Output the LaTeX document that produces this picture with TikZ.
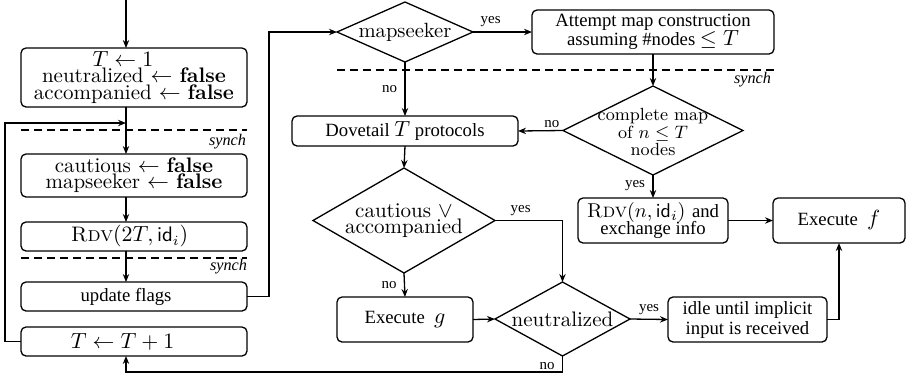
\documentclass[tikz,border=0pt]{standalone}
\usepackage{fontspec}
\newfontfamily\tms[Scale=0.89]{Liberation Serif}
\usetikzlibrary{shapes.geometric,arrows.meta}
% tight multi-line text: size, baselineskip
\newcommand\cmtxt[2]{\fontsize{#1}{#2}\selectfont\lineskiplimit=-20pt\relax}
\newcommand\tmtxt[2]{\tms\fontsize{#1}{#2}\selectfont\lineskiplimit=-20pt\relax}
\begin{document}
\begin{tikzpicture}[x=0.5pt,y=-0.5pt,
  every node/.style={inner sep=0pt, outer sep=0pt},
  flow/.style={draw, line width=0.65pt, rounded corners=2.5pt, align=center},
  dec/.style={draw, line width=0.65pt, diamond, align=center},
  conn/.style={line width=0.65pt, -{Stealth[length=4pt,width=3.2pt]}},
  barrier/.style={line width=0.65pt, dash pattern=on 4pt off 2.5pt},
  lbl/.style={font=\tmtxt{8.4}{8.4}},
  synchlbl/.style={font=\tmtxt{9.1}{9.4}\itshape, anchor=east}
]
\useasboundingbox (0,0) rectangle (907,377);

% ---- left column: initialisation and round loop
\coordinate (entry) at (126,0);
\coordinate (rail) at (269,0);
\coordinate (leftrail) at (5,0);
\coordinate (bottomrail) at (0,372);

\node[flow, minimum width=113pt, minimum height=29.5pt, font=\cmtxt{10.5}{8.1}] (init) at (134,77.5)
  {$T \leftarrow 1$\hspace*{11pt}\\ neutralized $\leftarrow$ \textbf{false}\\ accompanied $\leftarrow$ \textbf{false}};
\node[flow, minimum width=113pt, minimum height=21.5pt, font=\cmtxt{10.5}{7.9}] (reset) at (134,175.5)
  {cautious $\leftarrow$ \textbf{false}\\ mapseeker $\leftarrow$ \textbf{false}};
\node[flow, minimum width=113pt, minimum height=14.5pt, font=\cmtxt{10.5}{10}] (rdv1) at (134,236.5)
  {\textsc{Rdv}$(2T,\mathsf{id}_i)$\hspace*{4.5pt}};
\node[flow, minimum width=113pt, minimum height=14.5pt, font=\tmtxt{10.5}{10}] (upd) at (134,296.5)
  {update flags\hspace*{8pt}};
\node[flow, minimum width=113pt, minimum height=14.5pt, font=\cmtxt{10.5}{10}] (inc) at (134,341.5)
  {$T \leftarrow T+1$\hspace*{11.5pt}};

% synchronisation barriers
\draw[barrier] (init.west |- 0,130) -- (init.east |- 0,130);
\node[synchlbl] (sy1) at (246,142) {synch};
\draw[barrier] (init.west |- 0,258) -- (init.east |- 0,258);
\node[synchlbl] (sy2) at (247,267) {synch};

% ---- middle and right part
\node[dec, minimum width=68pt, minimum height=30pt, shape aspect=2.27, font=\cmtxt{10.3}{10}] (map) at (405,32) {mapseeker};
\node[flow, minimum width=121pt, minimum height=22pt, font=\tmtxt{10.5}{9.5}] (att) at (653,32)
  {Attempt map construction\\ assuming \#nodes $\leq T$};
\draw[barrier] (map.west |- 0,70) -- (att.east |- 0,70);
\node[synchlbl] (sy3) at (771,80) {synch};

\node[dec, minimum width=90pt, minimum height=44.5pt] (cmap) at (653,130.5) {};
\node[font=\cmtxt{8.8}{8.6}, align=center] (cmaptxt) at (653,132)
  {complete map\\ of $n \leq T$\\ nodes};

\node[flow, minimum width=113pt, minimum height=15pt, font=\tmtxt{10.5}{10}] (dove) at (405,131)
  {Dovetail $T$ protocols};
\node[dec, minimum width=91pt, minimum height=52.5pt, shape aspect=1.73, font=\cmtxt{10.5}{7.7}] (caut) at (404,220.5)
  {cautious $\vee$\\ accompanied};
\node[flow, minimum width=68pt, minimum height=22.5pt, font=\tmtxt{10.5}{10}] (exg) at (405,319.5)
  {Execute~~$g$};
\node[dec, minimum width=67.5pt, minimum height=37pt, shape aspect=1.82, font=\cmtxt{10.5}{10}] (neut) at (562.5,319)
  {neutralized};
\node[flow, minimum width=75pt, minimum height=22.5pt, font=\cmtxt{10}{8.4}] (rdv2) at (653,220.5)
  {\textsc{Rdv}$(n,\mathsf{id}_i)$ {\tms\fontsize{10.5}{8.4}\selectfont and}\\ {\tms\fontsize{10.5}{8.4}\selectfont exchange info}};
\node[flow, minimum width=66pt, minimum height=22.5pt, font=\tmtxt{10.5}{10}] (exf) at (839,220.5)
  {Execute~~$f$};
\node[flow, minimum width=79.5pt, minimum height=22.5pt, font=\tmtxt{10.5}{10}] (idle) at (747.5,319.5)
  {idle until implicit\\ input is received};

% ---- connectors
\draw[conn] (entry) -- (init.north -| entry);
\draw[conn] (init.south -| entry) -- (reset.north -| entry);
\draw[conn] (reset.south -| entry) -- (rdv1.north -| entry);
\draw[conn] (rdv1.south -| entry) -- (upd.north -| entry);
\draw[conn] (inc.west) -| (leftrail |- 0,123) -- (entry |- 0,123);
\draw[conn] (upd.east) -| (rail |- map.west) -- (map.west);

\draw[conn] (map.east) -- node[lbl, above=2.5pt, pos=0.3] {yes} (att.west);
\draw[conn] (map.south) -- node[lbl, left=4pt] {no} (dove.north);
\draw[conn] (att.south) -- (cmap.north);
\draw[conn] (cmap.west) -- node[lbl, above=1.5pt, pos=0.25] {no} (dove.east);
\draw[conn] (cmap.south) -- node[lbl, left=4pt, pos=0.45] {yes} (rdv2.north);
\draw[conn] (dove.south) -- (caut.north);
\draw[conn] (caut.east) -| node[lbl, above=2.5pt, pos=0.19] {yes} (neut.north);
\draw[conn] (caut.south) -- node[lbl, left=4pt] {no} (exg.north);
\draw[conn] (exg.east) -- (neut.west);
\draw[conn] (neut.east) -- node[lbl, above=2.5pt] {yes} (idle.west);
\draw[conn] (rdv2.east) -- (exf.west);
\draw[conn] (idle.east) -| (exf.south);
\draw[conn] (neut.south) -- node[lbl, left=4pt, pos=0.65] {no} (neut.south |- bottomrail)
  -| (inc.south -| entry);
\end{tikzpicture}
\end{document}
